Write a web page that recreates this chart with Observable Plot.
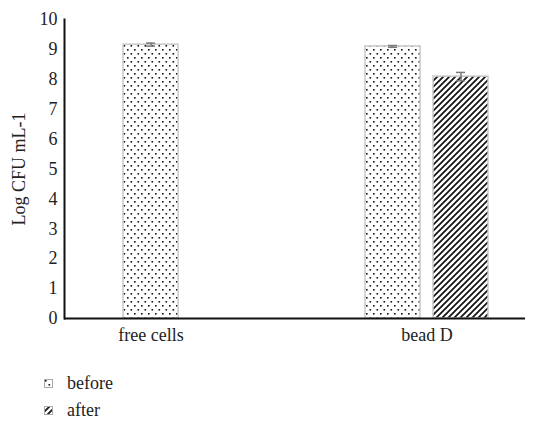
<!DOCTYPE html>
<html>
<head>
<meta charset="utf-8">
<script src="https://cdn.jsdelivr.net/npm/d3@7"></script>
<script src="https://cdn.jsdelivr.net/npm/@observablehq/plot@0.6"></script>
<style>
  body { margin: 0; background: #fff; font-family: "Liberation Serif", "DejaVu Serif", serif; }
  #legend { margin-left: 44px; margin-top: 20px; font-size: 18px; color: #222; }
  #legend .row { display: flex; align-items: center; height: 27px; }
  #legend svg { margin-right: 14px; }
</style>
</head>
<body>
<div id="chart"></div>
<div id="legend"></div>
<script>
const categories = ["free cells", "bead D"];
const series = ["before", "after"];
const freeCellsValues = [9.16, null];
const freeCellsErrors = [0.05, null];
const beadDValues = [9.1, 8.09];
const beadDErrors = [0.03, 0.14];
const yTicks = [0, 1, 2, 3, 4, 5, 6, 7, 8, 9, 10];

const data = [];
[[freeCellsValues, freeCellsErrors], [beadDValues, beadDErrors]].forEach(([vals, errs], ci) => {
  vals.forEach((v, si) => {
    if (v != null) data.push({category: categories[ci], series: series[si], value: v, err: errs[si]});
  });
});
const patternOf = {before: "url(#dots)", after: "url(#hatch)"};

const groups = [
  {filter: d => d.category === "free cells", dx: 0},
  {filter: d => d.category === "bead D" && d.series === "before", dx: -34},
  {filter: d => d.category === "bead D" && d.series === "after", dx: 34}
];

const marks = [];
for (const g of groups) {
  const sub = data.filter(g.filter);
  marks.push(Plot.barY(sub, {x: "category", y: "value", dx: g.dx, fill: d => patternOf[d.series], stroke: "#c8c8c8", strokeWidth: 1.5}));
  marks.push(Plot.ruleX(sub, {x: "category", y1: d => d.value - d.err, y2: d => d.value + d.err, dx: g.dx, stroke: "#7a7a7a", strokeWidth: 1.5}));
  marks.push(Plot.tickY(sub, {x: "category", y: d => d.value - d.err, dx: g.dx, stroke: "#7a7a7a", strokeWidth: 1.5, inset: 23}));
  marks.push(Plot.tickY(sub, {x: "category", y: d => d.value + d.err, dx: g.dx, stroke: "#7a7a7a", strokeWidth: 1.5, inset: 23}));
}

const plot = Plot.plot({
  width: 544,
  height: 350,
  marginLeft: 64,
  marginRight: 19,
  marginTop: 19,
  marginBottom: 32,
  style: {fontFamily: "Liberation Serif, DejaVu Serif, serif", fontSize: "18px", color: "#222", background: "#fff"},
  x: {domain: categories, paddingInner: 1 - 55 / 276, paddingOuter: 0.2355, align: 0.45, label: null, tickSize: 0, tickPadding: 10},
  y: {domain: [0, 10], ticks: yTicks, tickSize: 0, tickPadding: 7, label: "Log CFU mL-1", labelAnchor: "center", labelArrow: "none", labelOffset: 52, tickFormat: d => String(d)},
  marks: [
    ...marks,
    Plot.ruleY([0], {stroke: "#111", strokeWidth: 2}),
    Plot.frame({anchor: "left", stroke: "#111", strokeWidth: 2})
  ]
});

const defs = `
<defs>
  <pattern id="dots" width="7" height="8" patternUnits="userSpaceOnUse">
    <rect width="7" height="8" fill="#fff"/>
    <rect x="1" y="1" width="1.6" height="1.6" fill="#111"/>
    <rect x="4.5" y="5" width="1.6" height="1.6" fill="#111"/>
  </pattern>
  <pattern id="hatch" width="6" height="6" patternUnits="userSpaceOnUse">
    <rect width="6" height="6" fill="#fff"/>
    <path d="M0,6 L6,0 M-1.5,1.5 L1.5,-1.5 M4.5,7.5 L7.5,4.5" stroke="#111" stroke-width="1.7"/>
  </pattern>
</defs>`;
plot.insertAdjacentHTML("afterbegin", defs);
document.getElementById("chart").appendChild(plot);

// legend
const legend = document.getElementById("legend");
series.forEach(s => {
  const row = document.createElement("div");
  row.className = "row";
  row.innerHTML = `<svg width="9" height="9"><rect x="0.5" y="0.5" width="8" height="8" fill="${patternOf[s]}" stroke="#aaa" stroke-width="1"/></svg><span>${s}</span>`;
  legend.appendChild(row);
});
</script>
</body>
</html>
